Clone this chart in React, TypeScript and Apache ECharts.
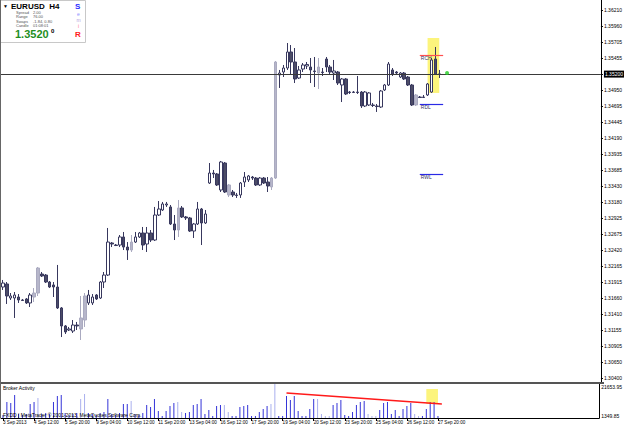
import React, { useEffect, useRef } from "react";
import * as echarts from "echarts";

// ---------- data ----------
const SLOTS = 154; // bar slots across the chart width (chart shifted left)
const LABEL_STEP = 8;
const timeLabels = [
  "3 Sep 2013", "4 Sep 12:00", "5 Sep 20:00", "9 Sep 04:00", "10 Sep 12:00",
  "11 Sep 20:00", "13 Sep 04:00", "16 Sep 12:00", "17 Sep 20:00", "19 Sep 04:00",
  "20 Sep 12:00", "23 Sep 20:00", "25 Sep 04:00", "26 Sep 12:00", "27 Sep 20:00",
];

const openP = [
  1.31838, 1.31886, 1.31664, 1.31664, 1.31680, 1.31633, 1.31649, 1.31586, 1.31680, 1.31743,
  1.32043, 1.32027, 1.31917, 1.31870, 1.31838, 1.31507, 1.31223, 1.31159, 1.31143, 1.31238,
  1.31175, 1.31317, 1.31586, 1.31586, 1.31712, 1.31664, 1.31917, 1.32027, 1.32533, 1.32501,
  1.32501, 1.32628, 1.32469, 1.32422, 1.32548, 1.32628, 1.32691, 1.32517, 1.32691, 1.32580,
  1.32975, 1.33054, 1.33133, 1.33102, 1.32833, 1.32738, 1.33086, 1.32944, 1.32928, 1.32722,
  1.32833, 1.33070, 1.32849, 1.33480, 1.33638, 1.33623, 1.33370, 1.33796, 1.33449, 1.33338,
  1.33291, 1.33291, 1.33496, 1.33528, 1.33575, 1.33559, 1.33449, 1.33559, 1.33496, 1.33417,
  1.33559, 1.35186, 1.35233, 1.35296, 1.35549, 1.35391, 1.35138, 1.35280, 1.35328, 1.35312,
  1.35249, 1.35217, 1.35233, 1.35438, 1.35312, 1.35217, 1.35233, 1.35028, 1.35123, 1.34917,
  1.34909, 1.34917, 1.34917, 1.34696, 1.34712, 1.34712, 1.34696, 1.34680, 1.34949, 1.35028,
  1.35265, 1.35233, 1.35154, 1.35217, 1.35154, 1.35028, 1.34712, 1.34838, 1.34830, 1.34870,
  1.34917, 1.35438, 1.35201,
];
const closeP = [
  1.31901, 1.31696, 1.31696, 1.31712, 1.31633, 1.31625, 1.31586, 1.31712, 1.31743, 1.32138,
  1.32012, 1.31917, 1.31838, 1.31838, 1.31507, 1.31223, 1.31128, 1.31175, 1.31238, 1.31223,
  1.31349, 1.31696, 1.31712, 1.31680, 1.31649, 1.31917, 1.32027, 1.32548, 1.32517, 1.32493,
  1.32628, 1.32469, 1.32422, 1.32548, 1.32628, 1.32691, 1.32501, 1.32691, 1.32580, 1.32975,
  1.33070, 1.33149, 1.33149, 1.32833, 1.32738, 1.33086, 1.32944, 1.32928, 1.32722, 1.32833,
  1.33070, 1.32849, 1.32991, 1.33638, 1.33623, 1.33449, 1.33812, 1.33338, 1.33291, 1.33291,
  1.33283, 1.33480, 1.33575, 1.33591, 1.33559, 1.33449, 1.33559, 1.33480, 1.33433, 1.33559,
  1.35391, 1.35217, 1.35296, 1.35549, 1.35391, 1.35123, 1.35265, 1.35344, 1.35352, 1.35265,
  1.35241, 1.35312, 1.35225, 1.35312, 1.35233, 1.35249, 1.35059, 1.35123, 1.34886, 1.34909,
  1.34917, 1.34909, 1.34696, 1.34917, 1.34902, 1.34704, 1.34688, 1.34933, 1.35028, 1.35359,
  1.35201, 1.35217, 1.35217, 1.35123, 1.35028, 1.34712, 1.34870, 1.34830, 1.34838, 1.35044,
  1.35423, 1.35201, 1.35200,
];
const lowP = [
  1.31791, 1.31570, 1.31633, 1.31349, 1.31586, 1.31617, 1.31570, 1.31522, 1.31601, 1.31696,
  1.31996, 1.31901, 1.31822, 1.31680, 1.31491, 1.31048, 1.31096, 1.31143, 1.31112, 1.31159,
  1.31001, 1.31207, 1.31554, 1.31554, 1.31633, 1.31649, 1.31822, 1.32012, 1.32469, 1.32485,
  1.32469, 1.32422, 1.32265, 1.32391, 1.32533, 1.32612, 1.32422, 1.32391, 1.32548, 1.32564,
  1.32959, 1.33038, 1.33102, 1.32817, 1.32580, 1.32628, 1.32928, 1.32896, 1.32707, 1.32612,
  1.32817, 1.32501, 1.32833, 1.33465, 1.33559, 1.33433, 1.33338, 1.33323, 1.33259, 1.33259,
  1.33244, 1.33244, 1.33417, 1.33496, 1.33528, 1.33433, 1.33433, 1.33465, 1.33338, 1.33370,
  1.33544, 1.34981, 1.35154, 1.35265, 1.35186, 1.35059, 1.35123, 1.35233, 1.35280, 1.35059,
  1.34996, 1.34965, 1.35170, 1.35233, 1.35186, 1.35107, 1.35028, 1.34759, 1.34870, 1.34886,
  1.34902, 1.34886, 1.34665, 1.34680, 1.34696, 1.34680, 1.34602, 1.34665, 1.34933, 1.35012,
  1.35170, 1.35186, 1.35138, 1.35107, 1.35012, 1.34696, 1.34696, 1.34823, 1.34823, 1.34854,
  1.34902, 1.35186, 1.35138,
];
const highP = [
  1.31949, 1.31917, 1.31743, 1.31759, 1.31727, 1.31649, 1.31664, 1.31743, 1.31822, 1.32154,
  1.32075, 1.32043, 1.31933, 1.31917, 1.32186, 1.31522, 1.31238, 1.31207, 1.31317, 1.31286,
  1.31696, 1.31743, 1.31791, 1.31727, 1.31727, 1.31933, 1.32075, 1.32770, 1.32548, 1.32517,
  1.32659, 1.32707, 1.32548, 1.32659, 1.32707, 1.32707, 1.32786, 1.32786, 1.32738, 1.33102,
  1.33196, 1.33181, 1.33181, 1.33133, 1.32975, 1.33212, 1.33117, 1.32959, 1.32944, 1.32849,
  1.33181, 1.33086, 1.33054, 1.33796, 1.33686, 1.33638, 1.33828, 1.33812, 1.33465, 1.33370,
  1.33323, 1.33496, 1.33654, 1.33607, 1.33591, 1.33575, 1.33575, 1.33575, 1.33575, 1.33575,
  1.35407, 1.35265, 1.35344, 1.35691, 1.35659, 1.35612, 1.35328, 1.35375, 1.35391, 1.35454,
  1.35470, 1.35454, 1.35296, 1.35470, 1.35344, 1.35423, 1.35249, 1.35138, 1.35138, 1.34933,
  1.34933, 1.35170, 1.34933, 1.34933, 1.34917, 1.34744, 1.34728, 1.34949, 1.35044, 1.35391,
  1.35296, 1.35249, 1.35233, 1.35233, 1.35170, 1.35044, 1.34886, 1.34854, 1.34870, 1.35059,
  1.35454, 1.35628, 1.35265,
];
const lightCandles = [8, 9, 20, 21, 33, 45, 58, 69, 70, 81, 106];

const volumes = [
  3140, 10900, 10310, 15080, 3740, 3140, 3740, 9710, 10900, 13290,
  3740, 4330, 3740, 10900, 14480, 15080, 4330, 3140, 3740, 4330,
  12690, 15680, 4330, 3740, 3140, 4330, 4930, 12690, 3740, 3140,
  4330, 9710, 9710, 11500, 3740, 3140, 4330, 9110, 7920, 12690,
  5530, 2540, 5530, 8510, 10310, 10900, 4930, 4330, 4930, 9110,
  9710, 12690, 3740, 6130, 2540, 8510, 9110, 9110, 4930, 2540,
  2540, 7920, 8510, 9110, 2540, 2540, 4930, 6720, 8510, 9710,
  21653.95, 2540, 2540, 14480, 12100, 14480, 5530, 2540, 2540, 6720,
  12690, 12690, 3740, 2540, 2540, 9110, 10310, 12100, 3140, 2540,
  4930, 9110, 10900, 11500, 3740, 2540, 2540, 6130, 10310, 10900,
  3740, 6130, 2540, 6720, 8510, 10310, 3740, 2540, 2540, 6720,
  10900, 10900, 2540,
];
const lightVolumes = [9, 20, 21, 33, 45, 46, 57, 58, 69, 70, 81, 82, 83, 84, 94, 95, 96, 106, 107];

const priceTickLabels = [
  "1.30400", "1.30650", "1.30905", "1.31155", "1.31410", "1.31660", "1.31915", "1.32165",
  "1.32420", "1.32675", "1.32925", "1.33180", "1.33430", "1.33685", "1.33935", "1.34190",
  "1.34445", "1.34695", "1.34950", "1.35200", "1.35455", "1.35705", "1.35960", "1.36210",
];
const priceMin = 1.30338;
const priceMax = 1.3637;
const volTickLabels = ["1349.85", "21653.95"];
const bidPrice = 1.352;
const bidLabel = "1.35200";

const levelNames = ["RCH", "RDL", "RWL"];
const levelPrices = [1.35502, 1.34728, 1.33623];
const levelFrom = 107;
const levelTo = 113;

const highlightFrom = 108.6;
const highlightTo = 111.7;
const highlightPrice = [1.34902, 1.3577];
const highlightVol = [9708, 18660];

const trendFrom = [72.7, 16275];
const trendTo = [112.7, 9708];

const markerPoint = [113.5, 1.35218];

const headerRows = [
  ["Spread", "2.00"],
  ["Range", "76.00"],
  ["Swaps", "-1.84, 0.80"],
  ["Candle", "01:08:01"],
];

// ---------- component ----------
export default function App() {
  const ref = useRef<HTMLDivElement>(null);

  useEffect(() => {
    if (!ref.current) return;
    const chart = echarts.init(ref.current, null, { renderer: "svg" });
    const cats = Array.from({ length: SLOTS }, (_, i) => String(i));
    const FONT = '"Liberation Sans", Arial, sans-serif';
    const lightSet = new Set(lightCandles);
    const lightVolSet = new Set(lightVolumes);

    const candleData = openP.map((o, i) => {
      const item: any = { value: [o, closeP[i], lowP[i], highP[i]] };
      if (lightSet.has(i)) {
        item.itemStyle = { color: "#b6b6ca", color0: "#b6b6ca", borderColor: "#aaaac0", borderColor0: "#aaaac0" };
      }
      return item;
    });

    const volData = volumes.map((v, i) => ({
      value: v,
      itemStyle: { color: lightVolSet.has(i) ? "#aab0ee" : "#3434d8" },
    }));

    const levelColors = ["#ff5050", "#2a2ae6", "#2a2ae6"];
    const priceTickValues = priceTickLabels.map(Number);
    const priceLabelValues = priceTickLabels.filter((t) => t !== bidLabel).map(Number);

    const isLabelIdx = (idx: number) => idx % LABEL_STEP === 0 && idx / LABEL_STEP < timeLabels.length;

    const option: any = {
      animation: false,
      backgroundColor: "#ffffff",
      textStyle: { fontFamily: FONT },
      grid: [
        { left: 1, top: 0, width: 603, height: 382 },
        { left: 1, top: 384, width: 603, height: 34 },
      ],
      xAxis: [
        {
          type: "category", gridIndex: 0, data: cats, boundaryGap: true,
          axisLine: { show: false }, axisTick: { show: false }, axisLabel: { show: false }, splitLine: { show: false },
        },
        {
          type: "category", gridIndex: 1, data: cats, boundaryGap: true,
          axisLine: { show: true, lineStyle: { color: "#000", width: 1 } },
          axisTick: { show: true, interval: (idx: number) => isLabelIdx(idx), length: 3, lineStyle: { color: "#000" }, alignWithLabel: true },
          axisLabel: {
            show: true, interval: 0, fontSize: 4.6, color: "#000", align: "left", margin: 2, fontFamily: FONT,
            formatter: (_v: string, idx: number) => (isLabelIdx(idx) ? timeLabels[idx / LABEL_STEP] : ""),
          },
          splitLine: { show: false },
        },
      ],
      yAxis: [
        {
          type: "value", gridIndex: 0, position: "right", min: priceMin, max: priceMax,
          splitLine: { show: false },
          axisLine: { show: true, lineStyle: { color: "#000", width: 1 } },
          axisTick: { show: true, length: 2, lineStyle: { color: "#000" }, customValues: priceTickValues },
          axisLabel: {
            show: true, fontSize: 5, color: "#000", margin: 3, fontFamily: FONT,
            customValues: priceLabelValues,
            formatter: (v: number) => v.toFixed(5),
          },
        },
        {
          type: "value", gridIndex: 1, position: "right", min: Number(volTickLabels[0]), max: Number(volTickLabels[1]),
          splitLine: { show: false },
          axisLine: { show: true, lineStyle: { color: "#000", width: 1 } },
          axisTick: { show: false },
          axisLabel: {
            show: true, fontSize: 5, color: "#000", margin: 2, fontFamily: FONT,
            customValues: volTickLabels.map(Number),
            formatter: (v: number) => v.toFixed(2),
            verticalAlignMinLabel: "bottom", verticalAlignMaxLabel: "top",
          },
        },
      ],
      series: [
        {
          // highlight box behind candles + bid line
          type: "line", xAxisIndex: 0, yAxisIndex: 0, data: [], z: 1, silent: true,
          markArea: {
            silent: true,
            itemStyle: { color: "#fcf47c" },
            data: [[{ xAxis: highlightFrom, yAxis: highlightPrice[0] }, { xAxis: highlightTo, yAxis: highlightPrice[1] }]],
          },
          markLine: {
            silent: true, symbol: "none", animation: false, precision: 5,
            lineStyle: { color: "#3a3a3a", width: 1, type: "solid" },
            label: {
              show: true, position: "end", formatter: bidLabel, distance: 3,
              backgroundColor: "#000", color: "#fff", fontSize: 5, padding: [1, 1], fontFamily: FONT,
            },
            data: [{ yAxis: bidPrice }],
          },
        },
        {
          type: "candlestick", xAxisIndex: 0, yAxisIndex: 0, z: 3,
          barWidth: 3,
          data: candleData,
          itemStyle: { color: "#ffffff", color0: "#4c4c66", borderColor: "#38385e", borderColor0: "#38385e", borderWidth: 1 },
        },
        {
          type: "line", xAxisIndex: 0, yAxisIndex: 0, data: [], z: 4, silent: true,
          markLine: {
            silent: true, symbol: "none", animation: false, precision: 5,
            data: levelNames.map((n, i) => [
              {
                coord: [levelFrom, levelPrices[i]],
                lineStyle: { color: levelColors[i], width: 1.2, type: "solid" },
                label: { show: true, position: "insideStartBottom", formatter: n, color: "#333366", fontSize: 5, distance: 1, fontFamily: FONT },
              },
              { coord: [levelTo, levelPrices[i]] },
            ]),
          },
        },
        {
          type: "scatter", xAxisIndex: 0, yAxisIndex: 0, z: 5, silent: true,
          symbolSize: 4, itemStyle: { color: "#22cc22" },
          data: [markerPoint],
        },
        {
          type: "line", xAxisIndex: 1, yAxisIndex: 1, data: [], z: 1, silent: true,
          markArea: {
            silent: true,
            itemStyle: { color: "#fcf47c" },
            data: [[{ xAxis: highlightFrom, yAxis: highlightVol[0] }, { xAxis: highlightTo, yAxis: highlightVol[1] }]],
          },
        },
        {
          type: "bar", xAxisIndex: 1, yAxisIndex: 1, z: 3, barWidth: 1, data: volData,
        },
        {
          type: "line", xAxisIndex: 1, yAxisIndex: 1, data: [], z: 4, silent: true,
          markLine: {
            silent: true, symbol: "none", animation: false, precision: 5,
            lineStyle: { color: "#ff1a1a", width: 1.5, type: "solid" },
            label: { show: false },
            data: [[{ coord: trendFrom }, { coord: trendTo }]],
          },
        },
      ],
      graphic: [
        // pane separator and left border
        { type: "line", shape: { x1: 0, y1: 383, x2: 604, y2: 383 }, style: { stroke: "#555", lineWidth: 2 }, z: 50 },
        { type: "line", shape: { x1: 0.5, y1: 0, x2: 0.5, y2: 418 }, style: { stroke: "#666", lineWidth: 1 }, z: 50 },
        { type: "text", left: 3, top: 385, style: { text: "Broker Activity", fontSize: 5, fill: "#000", fontFamily: FONT }, z: 60 },
        { type: "text", left: 3, top: 412, style: { text: "FXDD | MetaTrader © 2001-2013, MetaQuotes Software Corp.", fontSize: 5, fill: "#000", fontFamily: FONT }, z: 60 },
        // header box
        {
          type: "group", left: 0, top: 0, z: 100,
          children: [
            { type: "rect", shape: { x: 0.5, y: 0.5, width: 85, height: 42 }, style: { fill: "#fff", stroke: "#c8c8c8", lineWidth: 1 } },
            { type: "text", x: 3, y: 3, style: { text: "▼", fontSize: 5, fill: "#000", fontFamily: FONT } },
            { type: "text", x: 11, y: 2, style: { text: "EURUSD  H4", font: `bold 8px ${FONT}`, fill: "#000" } },
            ...headerRows.flatMap((r, i) => [
              { type: "text", x: 16, y: 10.5 + i * 4.3, style: { text: r[0], fontSize: 4, fill: "#555", fontFamily: FONT } },
              { type: "text", x: 33, y: 10.5 + i * 4.3, style: { text: r[1], fontSize: 4, fill: "#555", fontFamily: FONT } },
            ]),
            { type: "text", x: 15, y: 28, style: { text: "1.3520", font: `bold 11px ${FONT}`, fill: "#1f8f1f" } },
            { type: "text", x: 51, y: 27.5, style: { text: "0", font: `bold 6px ${FONT}`, fill: "#000" } },
            { type: "text", x: 75, y: 2, style: { text: "S", font: `bold 8px ${FONT}`, fill: "#2a2aff" } },
            { type: "text", x: 77, y: 11, style: { text: "e", fontSize: 5, fill: "#8c8cff", fontFamily: FONT } },
            { type: "text", x: 76.5, y: 17, style: { text: "m", fontSize: 5, fill: "#b0a0e0", fontFamily: FONT } },
            { type: "text", x: 78, y: 23, style: { text: "i", fontSize: 5, fill: "#ff7a9a", fontFamily: FONT } },
            { type: "text", x: 75, y: 30, style: { text: "R", font: `bold 8px ${FONT}`, fill: "#ff2020" } },
          ],
        },
      ],
    };

    chart.setOption(option);
    return () => chart.dispose();
  }, []);

  return (
    <div
      ref={ref}
      style={{ position: "fixed", left: 0, top: 0, width: 625, height: 429, background: "#fff" }}
    />
  );
}
